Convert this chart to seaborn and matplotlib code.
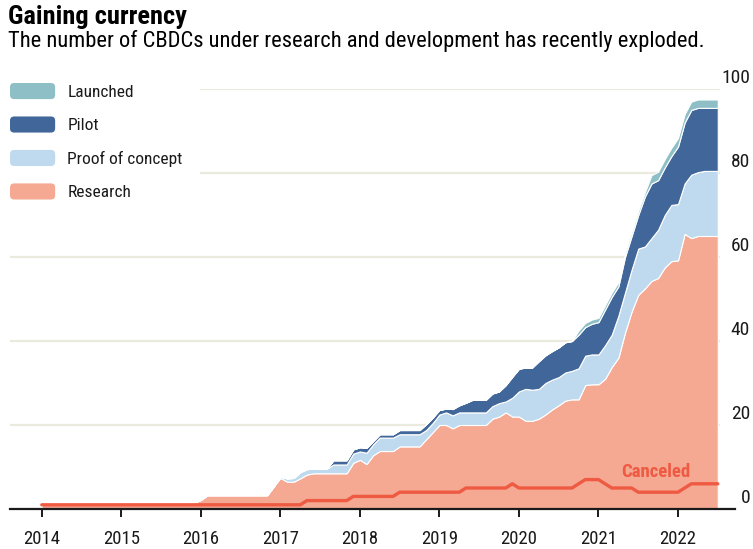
import numpy as np
import pandas as pd
import matplotlib
matplotlib.use("Agg")
import matplotlib.pyplot as plt
import matplotlib.transforms as mtransforms
from matplotlib.patches import Patch, FancyBboxPatch
from matplotlib.legend_handler import HandlerPatch
import seaborn as sns


# monthly counts, Jan 2014 .. Jul 2022
YEAR_LABELS = ["2014", "2015", "2016", "2017", "2018", "2019", "2020", "2021", "2022"]
Y_TICKS = [0, 20, 40, 60, 80, 100]

research = (
    [1, 1, 1, 1, 1, 1, 1, 1, 1, 1, 1, 1]
    + [1, 1, 1, 1, 1, 1, 1.5, 1.5, 1.5, 1.5, 1.5, 1.5]
    + [2.2, 3.3, 3.3, 3.3, 3.3, 3.3, 3.3, 3.3, 3.3, 3.3, 3.3, 5.4]
    + [7.4, 6.5, 6.5, 7.3, 8.2, 8.5, 8.5, 8.5, 8.5, 8.5, 8.5, 11]
    + [11.7, 10.7, 12.8, 13.8, 13.8, 13.8, 14.9, 14.9, 14.9, 14.9, 16.6, 18.3]
    + [20, 20, 19.2, 20, 20, 20, 20, 20, 21.5, 22, 23, 22]
    + [22, 21, 21, 21.5, 22.5, 23.7, 24.7, 25.8, 26.1, 26.1, 29.5, 29.7]
    + [29.7, 31, 33.8, 36, 42, 47, 51, 52.5, 54.3, 55, 57.5, 59]
    + [59.2, 65.5, 64.5, 65, 65, 65, 65]
)
proof_of_concept = (
    [0, 0, 0, 0, 0, 0, 0, 0, 0, 0, 0, 0]
    + [0, 0, 0, 0, 0, 0, 0, 0, 0, 0, 0, 0]
    + [0, 0, 0, 0, 0, 0, 0, 0, 0, 0, 0, 0]
    + [0.3, 0.8, 0.9, 1.5, 1.3, 1.1, 1.1, 1.1, 2.1, 2.1, 2.1, 2.2]
    + [2.0, 2.7, 2.6, 3.2, 3.2, 3.2, 2.9, 2.9, 2.9, 2.9, 2.2, 2.2]
    + [2.5, 3, 3.1, 3, 3, 3, 3, 3, 3, 3.2, 2.6, 4.5]
    + [6, 7.6, 7.4, 7.1, 7.5, 7.1, 6.7, 6.7, 6.8, 7.4, 7, 7.1]
    + [7.1, 8, 7.7, 10, 9.5, 10, 11, 10, 10.2, 11.5, 12.5, 13.4]
    + [13.4, 12, 15.1, 15.2, 15.5, 15.5, 15.5]
)
pilot = (
    [0, 0, 0, 0, 0, 0, 0, 0, 0, 0, 0, 0]
    + [0, 0, 0, 0, 0, 0, 0, 0, 0, 0, 0, 0]
    + [0, 0, 0, 0, 0, 0, 0, 0, 0, 0, 0, 0]
    + [0, 0, 0, 0, 0, 0, 0, 0, 1, 1, 1, 1]
    + [1, 1.2, 0.8, 0.8, 0.8, 0.8, 1, 1, 1, 1, 1.4, 1.3]
    + [1.1, 0.9, 1.5, 1.7, 2.3, 3, 3, 3, 3, 2.8, 3.9, 5]
    + [5.4, 5.1, 5.3, 6.6, 6.6, 6.8, 7.1, 7.2, 7.1, 8, 6.8, 7.3]
    + [7.7, 8.5, 9, 7, 8.5, 8, 8, 11.9, 13, 11.8, 11.3, 11.6]
    + [13.7, 14.5, 15.4, 15.3, 15, 15, 15]
)
launched = (
    [0, 0, 0, 0, 0, 0, 0, 0, 0, 0, 0, 0]
    + [0, 0, 0, 0, 0, 0, 0, 0, 0, 0, 0, 0]
    + [0, 0, 0, 0, 0, 0, 0, 0, 0, 0, 0, 0]
    + [0, 0, 0, 0, 0, 0, 0, 0, 0, 0, 0, 0]
    + [0, 0, 0, 0, 0, 0, 0, 0, 0, 0, 0, 0]
    + [0, 0, 0, 0, 0, 0, 0, 0, 0, 0, 0, 0]
    + [0, 0, 0, 0, 0, 0, 0, 0, 0, 1, 1, 1]
    + [1, 1, 1, 1, 1, 1, 1, 1, 2, 2, 2, 2]
    + [2, 2, 2, 2, 2, 2, 2]
)
canceled = (
    [1, 1, 1, 1, 1, 1, 1, 1, 1, 1, 1, 1]
    + [1, 1, 1, 1, 1, 1, 1, 1, 1, 1, 1, 1]
    + [1, 1, 1, 1, 1, 1, 1, 1, 1, 1, 1, 1]
    + [1, 1, 1, 1, 2, 2, 2, 2, 2, 2, 2, 3]
    + [3, 3, 3, 3, 3, 3, 4, 4, 4, 4, 4, 4]
    + [4, 4, 4, 4, 5, 5, 5, 5, 5, 5, 5, 6]
    + [5, 5, 5, 5, 5, 5, 5, 5, 5, 6, 7, 7]
    + [7, 6, 5, 5, 5, 5, 4, 4, 4, 4, 4, 4]
    + [4, 5, 6, 6, 6, 6, 6]
)

COLORS = {
    "Research": "#f5a892",
    "Proof of concept": "#bfdaee",
    "Pilot": "#41679a",
    "Launched": "#8ebfc6",
}
CANCEL_COLOR = "#ef5a43"
GRID_COLOR = "#ebeadf"
TEXT_COLOR = "#1a1a1a"


def rounded_patch(legend, orig_handle, xdescent, ydescent, width, height, fontsize):
    return FancyBboxPatch((-xdescent, -ydescent), width, height,
                          boxstyle="round,pad=0,rounding_size=3")


def main():
    sns.set_theme(style="white")
    plt.rcParams["font.family"] = ["Roboto Condensed", "Liberation Sans", "DejaVu Sans"]

    months = np.arange(len(research))
    df = pd.DataFrame({"month": months, "canceled": canceled})

    fig = plt.figure(figsize=(7.53, 5.49), dpi=100)
    ax = fig.add_axes([10 / 753, 1 - 509 / 549, 725 / 753, 420 / 549])

    # gridlines behind the areas; the top two start right of the legend
    for v in Y_TICKS[1:]:
        start = 23.8 if v >= 80 else -4.8
        ax.hlines(v, start, 102.4, color=GRID_COLOR, lw=1.6, zorder=0)

    ax.stackplot(
        months,
        research,
        proof_of_concept,
        pilot,
        launched,
        colors=[COLORS[k] for k in ["Research", "Proof of concept", "Pilot", "Launched"]],
        edgecolor="white",
        linewidth=0.8,
        zorder=1,
    )

    sns.lineplot(data=df, x="month", y="canceled", color=CANCEL_COLOR, lw=2.4, ax=ax, zorder=3)
    ax.text(92.7, 8.8, "Canceled", color=CANCEL_COLOR, fontsize=13.5, fontweight="bold",
            ha="center", va="center")

    ax.set_xlim(-4.8, 104.6)
    ax.set_ylim(0, 100)
    ax.set_xlabel("")
    ax.set_ylabel("")

    ax.set_xticks(np.arange(0, 97, 12))
    ax.set_xticklabels(YEAR_LABELS, fontsize=13.5, color=TEXT_COLOR)
    ax.tick_params(axis="x", direction="out", length=6, width=1.4, color=TEXT_COLOR, pad=9, bottom=True)
    ax.set_yticks([])

    for side in ["top", "left", "right"]:
        ax.spines[side].set_visible(False)
    ax.spines["bottom"].set_color(TEXT_COLOR)
    ax.spines["bottom"].set_linewidth(1.6)

    # y labels sit on the right, just above each gridline
    trans = mtransforms.blended_transform_factory(fig.transFigure, ax.transData)
    trans = trans + mtransforms.ScaledTranslation(0, 2 / 100, fig.dpi_scale_trans)
    for v in Y_TICKS:
        ax.text(750 / 753, v, str(v), transform=trans, ha="right", va="bottom",
                fontsize=14, color=TEXT_COLOR, clip_on=False)

    fig.text(8 / 753, 1 - 5 / 549, "Gaining currency", fontsize=19, fontweight="bold",
             va="top", ha="left", color="black")
    fig.text(8 / 753, 1 - 30 / 549,
             "The number of CBDCs under research and development has recently exploded.",
             fontsize=16.2, va="top", ha="left", color="black")

    handles = [Patch(facecolor=COLORS[k], edgecolor="none", label=k)
               for k in ["Launched", "Pilot", "Proof of concept", "Research"]]
    fig.legend(
        handles=handles,
        handler_map={Patch: HandlerPatch(patch_func=rounded_patch)},
        loc="upper left",
        bbox_to_anchor=(10 / 753, 1 - 83 / 549),
        frameon=False,
        fontsize=12.5,
        handlelength=2.6,
        handleheight=1.05,
        handletextpad=0.7,
        labelspacing=0.95,
        borderpad=0,
        borderaxespad=0,
        labelcolor=TEXT_COLOR,
    )

    fig.savefig("out.png", dpi=100)
    plt.close(fig)


if __name__ == "__main__":
    main()
